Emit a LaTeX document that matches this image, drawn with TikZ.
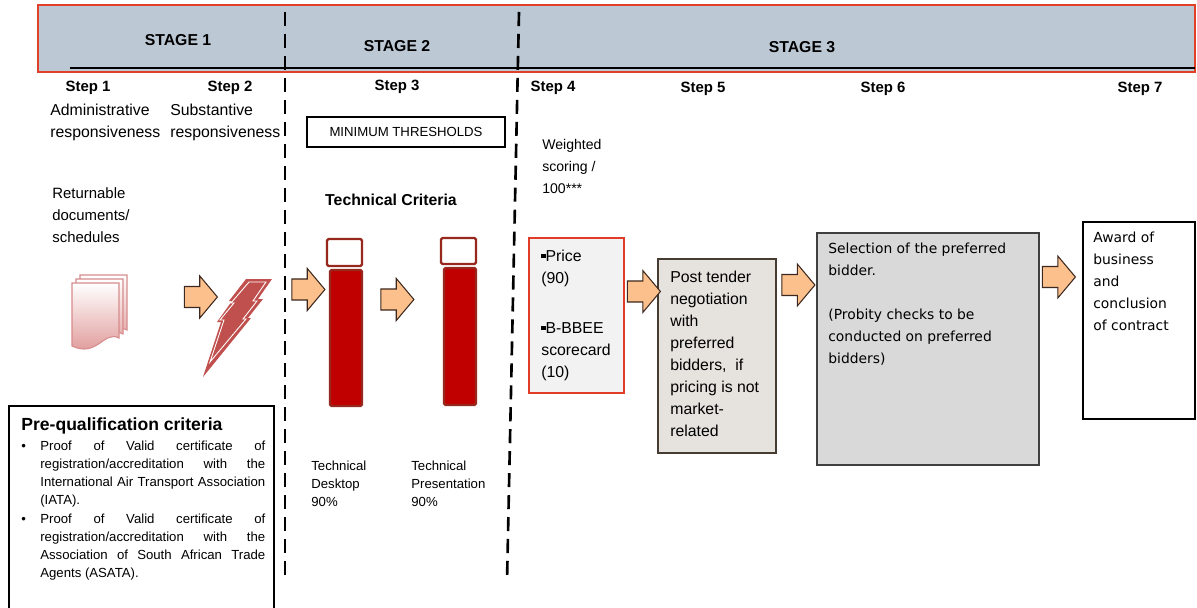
\documentclass[tikz,border=0pt]{standalone}
\usepackage{fontspec}
\setmainfont{Liberation Sans}
\newfontfamily\tahomafont{DejaVu Sans}
\usetikzlibrary{positioning,shapes.arrows}
\definecolor{bannerfill}{RGB}{188,200,212}
\definecolor{bannerline}{RGB}{224,64,40}
\definecolor{arrowfill}{RGB}{251,192,140}
\definecolor{arrowedge}{RGB}{60,40,30}
\definecolor{barred}{RGB}{192,0,0}
\definecolor{baredge}{RGB}{150,40,30}
\definecolor{pricefill}{RGB}{242,242,242}
\definecolor{priceedge}{RGB}{226,60,40}
\definecolor{postfill}{RGB}{230,227,222}
\definecolor{postedge}{RGB}{70,60,50}
\definecolor{selfill}{RGB}{217,217,217}
\definecolor{seledge}{RGB}{64,64,64}
\definecolor{boltred}{RGB}{192,80,77}
\definecolor{docpink}{RGB}{222,146,146}
\definecolor{docedge}{RGB}{214,140,140}
\newcommand{\sqbul}{\rule[2pt]{2.4pt}{2.4pt}}
\tikzset{
	stagelabel/.style={font=\fontsize{9}{11}\selectfont\bfseries},
	steplabel/.style={font=\fontsize{8.5}{10}\selectfont\bfseries},
	bodytext/.style={font=\fontsize{9}{12.5}\selectfont, align=left, anchor=north west, inner sep=0pt},
	smalltext/.style={font=\fontsize{7.5}{10.2}\selectfont, align=left, anchor=north west, inner sep=0pt},
	tahomatext/.style={font=\tahomafont\fontsize{7.9}{12.5}\selectfont, align=left, anchor=north west, inner sep=0pt},
	blockarrow/.style={single arrow, draw=arrowedge, fill=arrowfill, line width=0.6pt, inner xsep=0pt, inner ysep=0.2cm, minimum height=0.66cm, single arrow head extend=0.21cm, single arrow tip angle=100},
	stagedash/.style={line width=1.5pt, dash pattern=on 8pt off 4.5pt},
	capbox/.style={draw=baredge, fill=white, line width=1.3pt, inner sep=0pt, rounded corners=0.8pt},
	redbar/.style={draw=baredge, fill=barred, line width=1.3pt, inner sep=0pt, rounded corners=0.8pt}
}
\begin{document}
\begin{tikzpicture}[x=0.02cm, y=-0.02cm]
				\useasboundingbox (0,0) rectangle (1197,608);
				\fill[bannerfill] (38,5) rectangle (1195,72);
				\draw[bannerline, line width=0.8pt] (38,5) rectangle (1195,72);
				\coordinate (rule start) at (70,68);
				\coordinate (rule end) at (1195,68);
				\draw[line width=1.7pt] (rule start) -- (rule end);
				\node[stagelabel] (stage1) at (178,40) {STAGE 1};
				\node[stagelabel] (stage2) at (397,46) {STAGE 2};
				\node[stagelabel] (stage3) at (802,47) {STAGE 3};
				\node[steplabel] (step1) at (88,88) {Step 1};
				\node[steplabel] (step2) at (230,88) {Step 2};
				\node[steplabel] (step3) at (397,87) {Step 3};
				\node[steplabel] (step4) at (553,88) {Step 4};
				\node[steplabel] (step5) at (703,89) {Step 5};
				\node[steplabel] (step6) at (883,89) {Step 6};
				\node[steplabel] (step7) at (1140,89) {Step 7};
				\node[bodytext] (admin) at (50,103.5) {Administrative\\responsiveness};
				\node[bodytext] (subst) at (170,103.5) {Substantive\\responsiveness};
				\node[bodytext, font=\fontsize{8.5}{12.5}\selectfont] (returnable) at (52,187.5) {Returnable\\documents/\\schedules};
				\node[bodytext, font=\fontsize{8}{12.6}\selectfont] (weighted) at (542,139) {Weighted\\scoring /\\100***};
				\node[draw, line width=1.5pt, minimum width=3.96cm, minimum height=0.6cm, inner sep=0pt, font=\fontsize{7.5}{9}\selectfont] (minthr) at (406,132) {MINIMUM THRESHOLDS};
				\node[stagelabel] (techcrit) at (391,200) {Technical Criteria};
				\foreach \d in {8,4,0} {
					\draw[docedge, line width=0.6pt, top color=white, bottom color=docpink] ({72+\d},{283-\d}) -- ({119+\d},{283-\d}) -- ({119+\d},{338-\d}) .. controls ({104+\d},{330-\d}) and ({97+\d},{358-\d}) .. ({72+\d},{346-\d}) -- cycle;
				}
				\fill[boltred] (246,279) -- (272,279) -- (258,299) -- (263,299) -- (248,318) -- (251,318) -- (203,377) -- (221,322) -- (217,322) -- (232,301) -- (229,301) -- cycle;
				\draw[white, line width=0.5pt] (249,282) -- (266,282) -- (253,301) -- (257,301) -- (243,319) -- (246,319) -- (210,362) -- (224,320) -- (220,320) -- (234,303) -- (231,303) -- cycle;
				\node[capbox, minimum width=0.7cm, minimum height=0.54cm] (cap1) at (344.5,252.5) {};
				\node[redbar, minimum width=0.64cm, minimum height=2.72cm] (bar1) at (346,338) {};
				\node[capbox, minimum width=0.7cm, minimum height=0.52cm] (cap2) at (458.5,251) {};
				\node[redbar, minimum width=0.64cm, minimum height=2.74cm] (bar2) at (460,336.5) {};
				\node[smalltext] (desktop) at (311,460.5) {Technical\\Desktop\\90\%};
				\node[smalltext] (present) at (411,460.5) {Technical\\Presentation\\90\%};
				\node[draw=priceedge, fill=pricefill, line width=1.3pt, minimum width=1.9cm, minimum height=3.1cm, inner sep=0pt] (pricebox) at (576.5,315.5) {};
				\node[draw=postedge, fill=postfill, line width=1.3pt, minimum width=2.36cm, minimum height=3.88cm, inner sep=0pt] (postbox) at (717,356) {};
				\node[draw=seledge, fill=selfill, line width=0.8pt, minimum width=4.44cm, minimum height=4.64cm, inner sep=0pt] (selbox) at (928,349) {};
				\node[draw, fill=white, line width=0.8pt, minimum width=2.24cm, minimum height=3.94cm, inner sep=0pt] (awardbox) at (1139,320.5) {};
				\node[bodytext] (pricetext) at (541,249.5) {\sqbul Price\\(90)\\[16pt]\sqbul B-BBEE\\scorecard\\(10)};
				\node[bodytext] (posttext) at (670,270.5) {Post tender\\negotiation\\with\\preferred\\bidders,\ \ if\\pricing is not\\market-\\related};
				\node[tahomatext] (seltext) at (828,243) {Selection of the preferred\\bidder.\\[12.5pt](Probity checks to be\\conducted on preferred\\bidders)};
				\node[tahomatext] (awardtext) at (1093,232) {Award of\\business\\and\\conclusion\\of contract};
				\node[blockarrow] (arr1) at (196.5,297) {};
				\node[blockarrow] (arr2) at (304,289.5) {};
				\node[blockarrow] (arr3) at (393,299.5) {};
				\node[blockarrow] (arr4) at (639.5,291.5) {};
				\node[blockarrow] (arr5) at (794,285) {};
				\node[blockarrow] (arr6) at (1054.5,277) {};
				\node[draw, line width=0.7pt, minimum width=5.3cm, minimum height=4.18cm, inner sep=0pt] (prebox) at (141.5,510.5) {};
				\node[anchor=west, inner sep=0pt, font=\fontsize{10}{12}\selectfont\bfseries] (pretitle) at (21,426) {Pre-qualification criteria};
				\node[smalltext] (prelist) at (21,440.5) {\makebox[0.38cm][l]{\textbullet}\makebox[4.5cm][s]{Proof of Valid certificate of}\\
					\hspace*{0.38cm}\makebox[4.5cm][s]{registration/accreditation with the}\\
					\hspace*{0.38cm}\makebox[4.5cm][s]{International Air Transport Association}\\
					\hspace*{0.38cm}(IATA).\\[1pt]
					\makebox[0.38cm][l]{\textbullet}\makebox[4.5cm][s]{Proof of Valid certificate of}\\
					\hspace*{0.38cm}\makebox[4.5cm][s]{registration/accreditation with the}\\
					\hspace*{0.38cm}\makebox[4.5cm][s]{Association of South African Trade}\\
					\hspace*{0.38cm}Agents (ASATA).};
				\coordinate (div1 top) at (285,12);
				\coordinate (div1 bot) at (285,578);
				\coordinate (div2 top) at (519,12);
				\coordinate (div2 bot) at (507,582);
				\draw[stagedash] (div1 top) -- (div1 bot);
				\draw[stagedash] (div2 top) -- (div2 bot);
\end{tikzpicture}
\end{document}
